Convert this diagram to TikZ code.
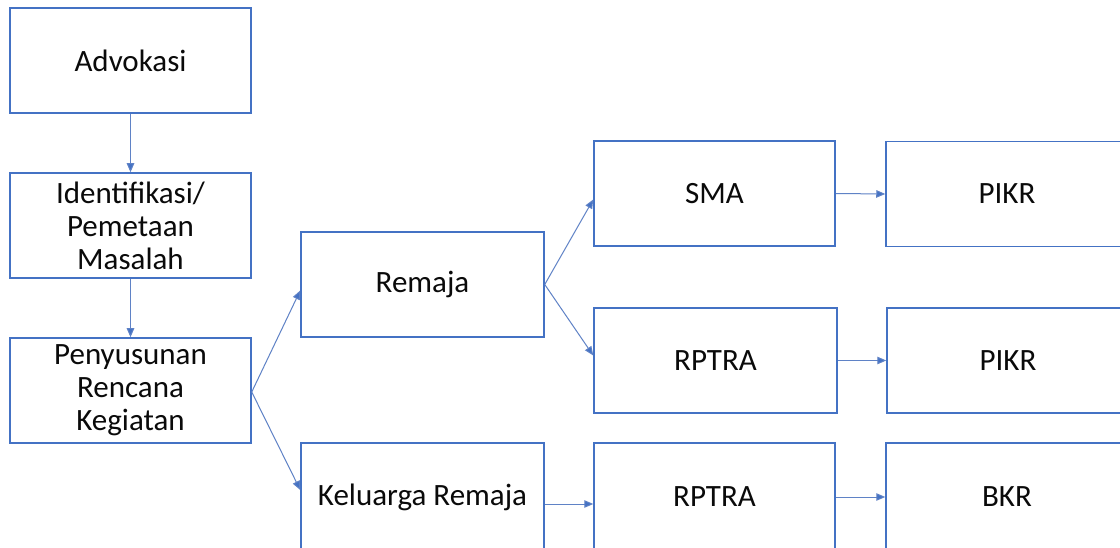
\documentclass[tikz,border=0pt]{standalone}
\usepackage{fontspec}
\setmainfont{Carlito}
\usetikzlibrary{arrows.meta}
\definecolor{boxblue}{HTML}{4472C4}
\definecolor{linkblue}{HTML}{5F82C6}
\definecolor{txt}{HTML}{0A0A0A}
\begin{document}
\begin{tikzpicture}[x=1pt,y=-1pt,
  stepbox/.style={draw=boxblue,line width=1.5pt,fill=white,rectangle,
    minimum width=241pt,minimum height=105pt,inner sep=0pt,align=center,
    text=txt,font=\fontsize{31}{33}\selectfont},
  link/.style={draw=linkblue,line width=1pt,
    -{Triangle[length=9pt,width=7.5pt,fill=boxblue]}}]
\clip (0,0) rectangle (1120,548);
\fill[white] (0,0) rectangle (1120,548);
\node[stepbox] (adv) at (130.5,60.5) {Advokasi};
\node[stepbox] (idf) at (130.5,225.5) {Identifikasi/\\Pemetaan\\Masalah};
\node[stepbox] (pen) at (130.5,390.5) {Penyusunan\\Rencana\\Kegiatan};
\node[stepbox,minimum width=243pt] (rem) at (422.5,284.5) {Remaja};
\node[stepbox,minimum width=243pt,minimum height=108pt] (kel) at (422.5,497) {Keluarga Remaja};
\node[stepbox] (sma) at (714.5,193.5) {SMA};
\node[stepbox,minimum width=243pt] (rp1) at (715.5,360.5) {RPTRA};
\node[stepbox,minimum height=108pt] (rp2) at (714.5,497) {RPTRA};
\node[stepbox,minimum width=242pt] (pk1) at (1007,194) {PIKR};
\node[stepbox,minimum width=242pt] (pk2) at (1008,360.5) {PIKR};
\node[stepbox,minimum width=242pt,minimum height=108pt] (bkr) at (1007,497) {BKR};
\draw[link] (adv.south) -- (idf.north);
\draw[link] (idf.south) -- (pen.north);
\draw[link] ([yshift=-1.5pt]pen.east) -- ([yshift=-6pt]rem.west);
\draw[link] ([yshift=-1.5pt]pen.east) -- ([yshift=7pt]kel.west);
\draw[link] (rem.east) -- ([yshift=-6pt]sma.west);
\draw[link] (rem.east) -- ([yshift=5pt]rp1.west);
\draw[link] (sma.east) -- (pk1.west);
\draw[link] (rp1.east) -- (pk2.west);
\draw[link] ([yshift=-7pt]kel.east) -- ([yshift=-7pt]rp2.west);
\draw[link] (rp2.east) -- (bkr.west);
\end{tikzpicture}
\end{document}
